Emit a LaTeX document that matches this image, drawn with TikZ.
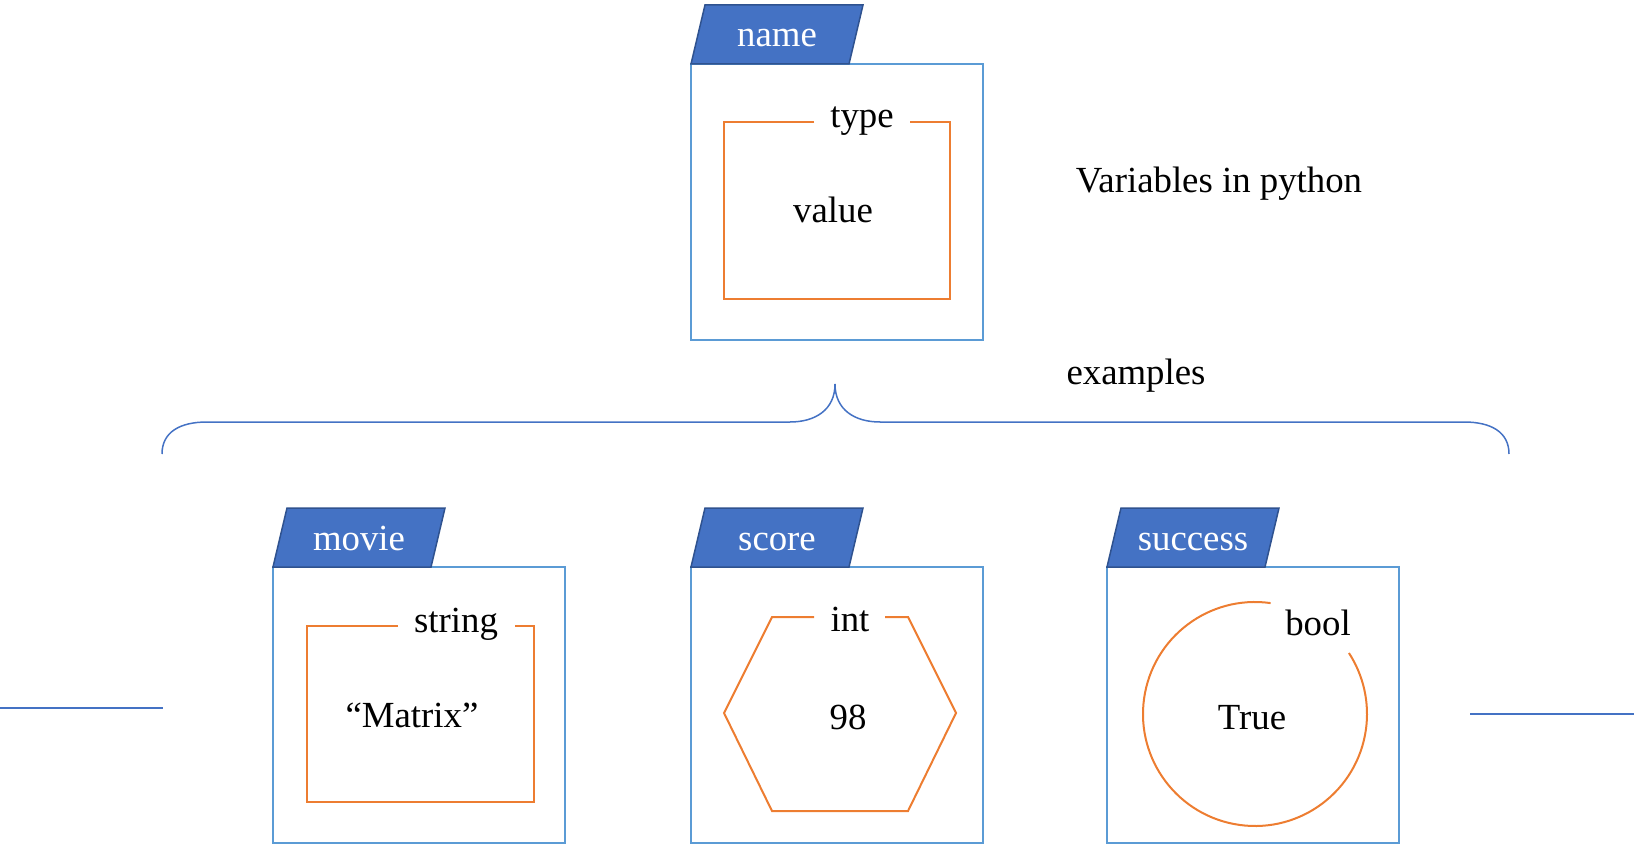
\documentclass[tikz,border=0pt]{standalone}
\usepackage{fontspec}
\setmainfont{Liberation Serif}
\definecolor{tabblue}{HTML}{4472C4}
\definecolor{tabedge}{HTML}{2F528F}
\definecolor{boxblue}{HTML}{5B9BD5}
\definecolor{typeorange}{HTML}{ED7D31}

\begin{document}
\begin{tikzpicture}[x=0.5pt, y=-0.5pt,
  font=\fontsize{18.4}{22}\selectfont,
  varbox/.style={draw=boxblue, line width=1pt},
  vartab/.style={fill=tabblue, draw=tabedge, line width=0.75pt},
  typeline/.style={draw=typeorange, line width=1pt},
  brace/.style={draw=tabblue, line width=0.75pt},
  sideline/.style={draw=tabblue, line width=1pt},
  word/.style={anchor=base, inner sep=0pt}]
\useasboundingbox (0,0) rectangle (1634,845);

% variable boxes with their name tabs
\foreach \l/\t/\vname in {691/64/name, 273/567/movie, 691/567/score, 1107/567/success}{
  \draw [varbox] (\l,\t) rectangle ++(292,276);
  \filldraw [vartab] (\l,\t) -- ++(14,-59) -- ++(158,0) -- ++(-14,59) -- cycle;
  \node [word, white] (tab-\vname) at (\l+86,\t-17) {\vname};
}

% name
\draw [typeline] (814,122) -- (724,122) -- (724,299) -- (950,299) -- (950,122) -- (910,122);
\node [word] (type) at (862,128) {type};
\node [word] (value) at (833,223) {value};

\node [word] (title) at (1219,193) {Variables in python};
\node [word] (examples) at (1136,385) {examples};

% brace
\draw [brace] (162,454) .. controls (162,432) and (180,422) .. (207,422) -- (790,422)
  .. controls (815,422) and (835,410) .. (835,384)
  .. controls (835,410) and (855,422) .. (880,422) -- (1464,422)
  .. controls (1491,422) and (1509,432) .. (1509,454);

% movie
\draw [typeline] (398,626) -- (307,626) -- (307,802) -- (534,802) -- (534,626) -- (515,626);
\node [word] (string) at (456,632) {string};
\node [word] (matrix) at (412,727) {``Matrix''};

% score
\draw [typeline] (814,617) -- (772,617) -- (724,713) -- (772,811) -- (908,811) -- (956,713) -- (908,617) -- (885,617);
\node [word] (int) at (850,631) {int};
\node [word] (ninetyeight) at (848,729) {98};

% success
\draw [typeline] (1255,714) ++(-82:112) arc [start angle=-82, end angle=-393, radius=112];
\node [word] (bool) at (1318,635) {bool};
\node [word] (true) at (1252,729) {True};

\draw [sideline] (0,708) -- (163,708);
\draw [sideline] (1470,714) -- (1634,714);
\end{tikzpicture}
\end{document}
